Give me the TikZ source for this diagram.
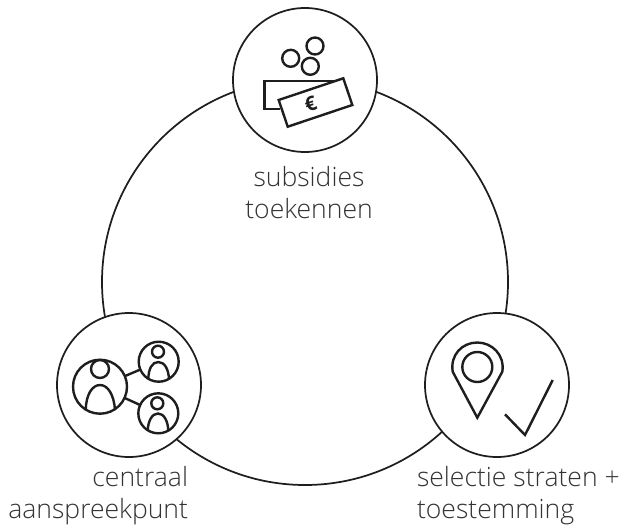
\documentclass[tikz,border=0pt]{standalone}
\usepackage{fontspec}
\setmainfont{Open Sans}[UprightFont=* Light]
\newfontfamily\eurofont{Open Sans}[UprightFont=* Bold]
\definecolor{ink}{HTML}{1E1E1E}
\definecolor{lbl}{HTML}{333333}
\tikzset{
  ring/.style={circle,draw=ink,line width=1.3pt,inner sep=0,outer sep=0,minimum size=#1*1.5pt},
  hub/.style={ring=#1,fill=white},
  icon/.style={draw=ink,line width=1.8pt,line join=miter},
  iconc/.style={circle,draw=ink,line width=1.8pt,inner sep=0,outer sep=0,minimum size=#1*1.5pt},
  lab/.style={text=lbl,font=\fontsize{19.9}{24}\selectfont,inner sep=0,outer sep=0}
}
\begin{document}
\begin{tikzpicture}[x=0.75pt,y=-0.75pt]
\useasboundingbox (0,0) rectangle (623,525);
\node[ring=203] (cycle) at (305,282) {};
\node[hub=72] (top) at (305,80) {};
\node[hub=72] (left) at (129,385) {};
\node[hub=72] (right) at (497,385) {};
% coins and bills
\node[iconc=8.5] (c1) at (290.7,58.3) {};
\node[iconc=8.5] (c2) at (315,46) {};
\node[iconc=8.5] (c3) at (310.3,66.3) {};
\draw[icon] (335,80.7) -- (264.3,80.7) -- (264.3,109) -- (280,109);
\draw[icon] (343.3,78.3) -- (352.3,105) -- (287.7,126.7) -- (278.7,100) -- cycle;
\node[rotate=18,text=ink,inner sep=0,font=\eurofont\fontsize{15}{15}\selectfont] (euro) at (310.7,103.5) {€};
% people
\node[iconc=27] (p1) at (100,386.7) {};
\node[iconc=20] (p2) at (158.7,361.7) {};
\node[iconc=20] (p3) at (158.3,413.3) {};
\draw[icon] (p1) -- (p2);
\draw[icon] (p1) -- (p3);
\node[iconc=9] (h1) at (100,369) {};
\node[iconc=6] (h2) at (158,351.7) {};
\node[iconc=6] (h3) at (157.3,403.3) {};
\draw[icon] (85.7,410) .. controls (86,395) and (92,385) .. (100,385) .. controls (108,385) and (114,395) .. (115,410);
\draw[icon] (148.3,379) .. controls (148.5,369) and (152,362) .. (158.3,362) .. controls (164.5,362) and (168.5,369) .. (169,379);
\draw[icon] (147.7,431) .. controls (148,421) and (152,413.5) .. (158,413.5) .. controls (164,413.5) and (168,421) .. (168.3,431);
% pin and check
\node[iconc=15] (pinhead) at (477.3,367) {};
\draw[icon] (452.7,371.7) .. controls (450,355) and (462,342.5) .. (477.3,342.5) .. controls (492,342.5) and (505,355) .. (502.3,371.7) -- (477.3,417.7) -- cycle;
\draw[icon] (505,414.3) -- (525,435) -- (552.7,380);
% labels
\node[lab,align=center] (t1) at (309,193) {subsidies\\toekennen};
\node[lab,align=right,anchor=east] (t2) at (188,495.5) {centraal\\aanspreekpunt};
\node[lab,align=left,anchor=west] (t3) at (417,495.5) {selectie straten +\\toestemming};
\end{tikzpicture}
\end{document}
